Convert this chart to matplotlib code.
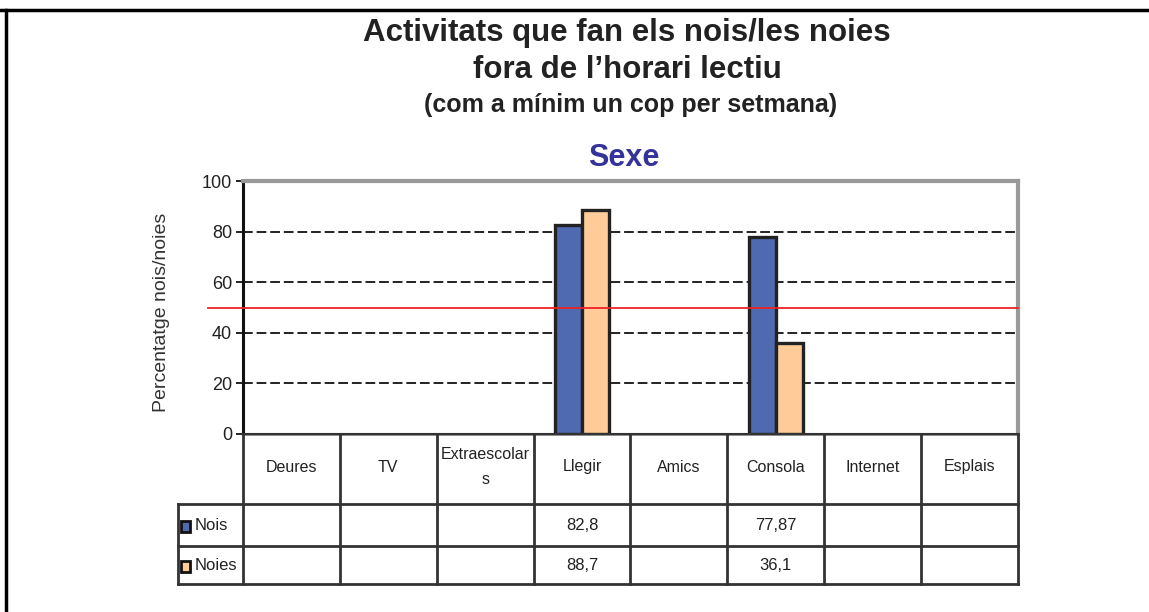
import numpy as np
import matplotlib.pyplot as plt
from matplotlib.lines import Line2D
from matplotlib.patches import Rectangle

# data
categories = ['Deures', 'TV', 'Extraescolar\ns', 'Llegir', 'Amics', 'Consola', 'Internet', 'Esplais']
nois = np.array([np.nan, np.nan, np.nan, 82.8, np.nan, 77.87, np.nan, np.nan])
noies = np.array([np.nan, np.nan, np.nan, 88.7, np.nan, 36.1, np.nan, np.nan])
series_names = ['Nois', 'Noies']
reference = 50
yticks = [0, 20, 40, 60, 80, 100]

colors = ['#506AB1', '#FFCC99']
plt.rcParams['font.family'] = ['Liberation Sans', 'DejaVu Sans']

W, H = 1149, 612
fig = plt.figure(figsize=(W / 100, H / 100), dpi=100)


def box(l, t, r, b):
    return [l / W, 1 - b / H, (r - l) / W, (b - t) / H]


# main chart
ax = fig.add_axes(box(243, 181, 1018, 434))
x = np.arange(len(categories))
bw = 0.28
ax.bar(x - bw / 2, nois, bw, color=colors[0], edgecolor='#222222', linewidth=2.4, zorder=3)
ax.bar(x + bw / 2, noies, bw, color=colors[1], edgecolor='#222222', linewidth=2.4, zorder=3)
ax.set_xlim(-0.5, len(categories) - 0.5)
ax.set_ylim(0, 100)
ax.set_yticks(yticks)
ax.set_xticks([])
for t in yticks[1:-1]:
    ax.axhline(t, color='#222222', lw=1.4, ls=(0, (5, 2)), zorder=1)
cat_px = 775 / len(categories)
ax.plot([-0.5 - 35 / cat_px, len(categories) - 0.5], [reference, reference],
        color='#EE2222', lw=1.3, zorder=5, clip_on=False)
for lab in ax.get_yticklabels():
    lab.set_fontsize(13)
    lab.set_color('#222222')
ax.tick_params(axis='y', length=5, width=1.2, pad=3)
ax.spines['left'].set_color('#111111')
ax.spines['left'].set_linewidth(2.2)
ax.spines['bottom'].set_color('#888888')
ax.spines['bottom'].set_linewidth(2)
for s in ['top', 'right']:
    ax.spines[s].set_color('#999999')
    ax.spines[s].set_linewidth(3)

# data table below the chart
tax = fig.add_axes(box(178, 434, 1018, 584))
xl = -0.5 - 65 / cat_px
xr = len(categories) - 0.5
tax.set_xlim(xl, xr)
tax.set_ylim(150, 0)
tax.axis('off')
lc = '#333333'
tax.plot([-0.5, xr], [0, 0], color=lc, lw=1.5, clip_on=False)
for yy in [70, 112, 150]:
    tax.plot([xl, xr], [yy, yy], color=lc, lw=2, clip_on=False)
for i in range(len(categories) + 1):
    tax.plot([-0.5 + i, -0.5 + i], [0, 150], color=lc, lw=2, clip_on=False)
tax.plot([xl, xl], [70, 150], color=lc, lw=2, clip_on=False)
for i, c in enumerate(categories):
    tax.text(i, 33, c, ha='center', va='center', fontsize=11.5,
             color='#222222', linespacing=1.8)
rows = [(nois, 91), (noies, 131)]
for k, (vals, yc) in enumerate(rows):
    for i, v in enumerate(vals):
        if not np.isnan(v):
            tax.text(i, yc + 1, f'{v:g}'.replace('.', ','), ha='center', va='center',
                     fontsize=12, color='#222222')
    tax.add_patch(Rectangle((xl + 3 / cat_px, yc - 4), 9 / cat_px, 11,
                            facecolor=colors[k], edgecolor='#111111', lw=2, clip_on=False))
    tax.text(xl + 17 / cat_px, yc + 1, series_names[k], ha='left', va='center',
             fontsize=12, color='#222222')

# titles
cx = 627 / W
fig.text(cx, 1 - 33 / H, 'Activitats que fan els nois/les noies', ha='center', va='center',
         fontsize=22.5, fontweight='bold', color='#222222')
fig.text(cx, 1 - 70 / H, 'fora de l\u2019horari lectiu', ha='center', va='center',
         fontsize=22.5, fontweight='bold', color='#222222')
fig.text(631 / W, 1 - 105 / H, '(com a m\u00ednim un cop per setmana)', ha='center', va='center',
         fontsize=18, fontweight='bold', color='#222222')
fig.text(624 / W, 1 - 158 / H, 'Sexe', ha='center', va='center',
         fontsize=22, fontweight='bold', color='#333399')
fig.text(162 / W, 1 - 312 / H, 'Percentatge nois/noies', rotation=90, ha='center', va='center',
         fontsize=14, color='#333333')

# outer frame
fig.add_artist(Line2D([0, 1], [1 - 10 / H] * 2, color='black', lw=2.5, transform=fig.transFigure))
fig.add_artist(Line2D([6 / W] * 2, [0, 1 - 10 / H], color='black', lw=2.5, transform=fig.transFigure))

fig.savefig('out.png', dpi=100)
